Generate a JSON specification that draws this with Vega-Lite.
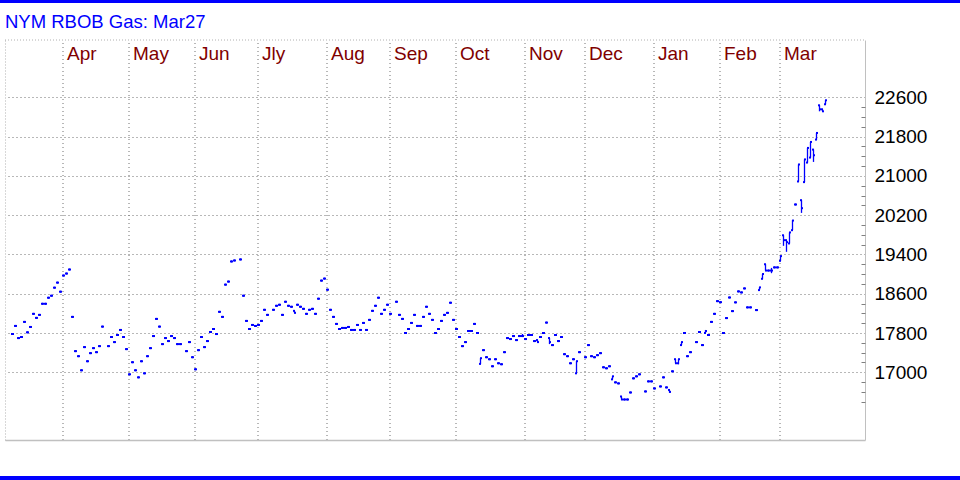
{
  "$schema": "https://vega.github.io/schema/vega-lite/v6.json",
  "autosize": {"type": "none"},
  "padding": {"left": 5, "top": 40, "right": 95, "bottom": 40},
  "width": 860,
  "height": 400,
  "background": "#ffffff",
  "config": {"view": {"stroke": null}},
  "title": {"text": "NYM RBOB Gas: Mar27", "anchor": "start", "frame": "group", "font": "Liberation Sans", "fontSize": 18.5, "fontWeight": "normal", "color": "#0000ff", "baseline": "alphabetic", "offset": 0, "dy": 46.8},
  "data": {"values": [
    {"w":3,"o":17780,"h":17780,"l":17780,"c":17780},
    {"w":4,"o":17944,"h":17944,"l":17944,"c":17944},
    {"w":5,"o":17697,"h":17697,"l":17697,"c":17697},
    {"w":6,"o":17718,"h":17718,"l":17718,"c":17718},
    {"w":7,"o":18026,"h":18026,"l":18026,"c":18026},
    {"w":8,"o":17814,"h":17814,"l":17814,"c":17814},
    {"w":9,"o":17923,"h":17923,"l":17923,"c":17923},
    {"w":10,"o":18190,"h":18190,"l":18190,"c":18190},
    {"w":11,"o":18108,"h":18108,"l":18108,"c":18108},
    {"w":12,"o":18169,"h":18169,"l":18169,"c":18169},
    {"w":13,"o":18395,"h":18395,"l":18395,"c":18395},
    {"w":14,"o":18395,"h":18395,"l":18395,"c":18395},
    {"w":15,"o":18518,"h":18518,"l":18518,"c":18518},
    {"w":16,"o":18559,"h":18559,"l":18559,"c":18559},
    {"w":17,"o":18723,"h":18723,"l":18723,"c":18723},
    {"w":18,"o":18826,"h":18826,"l":18826,"c":18826},
    {"w":19,"o":18641,"h":18641,"l":18641,"c":18641},
    {"w":20,"o":18970,"h":18970,"l":18970,"c":18970},
    {"w":21,"o":19011,"h":19011,"l":19011,"c":19011},
    {"w":22,"o":19093,"h":19093,"l":19093,"c":19093},
    {"w":23,"o":18128,"h":18128,"l":18128,"c":18128},
    {"w":24,"o":17431,"h":17431,"l":17431,"c":17431},
    {"w":25,"o":17328,"h":17328,"l":17328,"c":17328},
    {"w":26,"o":17041,"h":17041,"l":17041,"c":17041},
    {"w":27,"o":17513,"h":17513,"l":17513,"c":17513},
    {"w":28,"o":17225,"h":17225,"l":17225,"c":17225},
    {"w":29,"o":17390,"h":17390,"l":17390,"c":17390},
    {"w":30,"o":17492,"h":17492,"l":17492,"c":17492},
    {"w":31,"o":17410,"h":17410,"l":17410,"c":17410},
    {"w":32,"o":17533,"h":17533,"l":17533,"c":17533},
    {"w":33,"o":17930,"h":17930,"l":17930,"c":17930},
    {"w":35,"o":17533,"h":17533,"l":17533,"c":17533},
    {"w":36,"o":17718,"h":17718,"l":17718,"c":17718},
    {"w":37,"o":17615,"h":17615,"l":17615,"c":17615},
    {"w":38,"o":17759,"h":17759,"l":17759,"c":17759},
    {"w":39,"o":17862,"h":17862,"l":17862,"c":17862},
    {"w":40,"o":17718,"h":17718,"l":17718,"c":17718},
    {"w":41,"o":17472,"h":17472,"l":17472,"c":17472},
    {"w":42,"o":16959,"h":16959,"l":16959,"c":16959},
    {"w":43,"o":17205,"h":17205,"l":17205,"c":17205},
    {"w":44,"o":17041,"h":17041,"l":17041,"c":17041},
    {"w":45,"o":16897,"h":16897,"l":16897,"c":16897},
    {"w":46,"o":17225,"h":17225,"l":17225,"c":17225},
    {"w":47,"o":16979,"h":16979,"l":16979,"c":16979},
    {"w":48,"o":17328,"h":17328,"l":17328,"c":17328},
    {"w":49,"o":17492,"h":17492,"l":17492,"c":17492},
    {"w":50,"o":17738,"h":17738,"l":17738,"c":17738},
    {"w":51,"o":18087,"h":18087,"l":18087,"c":18087},
    {"w":52,"o":17930,"h":17930,"l":17930,"c":17930},
    {"w":53,"o":17574,"h":17574,"l":17574,"c":17574},
    {"w":54,"o":17697,"h":17697,"l":17697,"c":17697},
    {"w":55,"o":17636,"h":17636,"l":17636,"c":17636},
    {"w":56,"o":17738,"h":17738,"l":17738,"c":17738},
    {"w":57,"o":17697,"h":17697,"l":17697,"c":17697},
    {"w":58,"o":17574,"h":17574,"l":17574,"c":17574},
    {"w":59,"o":17574,"h":17574,"l":17574,"c":17574},
    {"w":61,"o":17431,"h":17431,"l":17431,"c":17431},
    {"w":62,"o":17615,"h":17615,"l":17615,"c":17615},
    {"w":63,"o":17307,"h":17307,"l":17307,"c":17307},
    {"w":64,"o":17061,"h":17061,"l":17061,"c":17061},
    {"w":65,"o":17451,"h":17451,"l":17451,"c":17451},
    {"w":66,"o":17718,"h":17718,"l":17718,"c":17718},
    {"w":67,"o":17513,"h":17513,"l":17513,"c":17513},
    {"w":68,"o":17636,"h":17636,"l":17636,"c":17636},
    {"w":69,"o":17820,"h":17820,"l":17820,"c":17820},
    {"w":70,"o":17882,"h":17882,"l":17882,"c":17882},
    {"w":71,"o":17779,"h":17779,"l":17779,"c":17779},
    {"w":72,"o":18231,"h":18231,"l":18231,"c":18231},
    {"w":73,"o":18128,"h":18128,"l":18128,"c":18128},
    {"w":74,"o":18785,"h":18785,"l":18785,"c":18785},
    {"w":75,"o":18847,"h":18847,"l":18847,"c":18847},
    {"w":76,"o":19257,"h":19257,"l":19257,"c":19257},
    {"w":77,"o":19277,"h":19277,"l":19277,"c":19277},
    {"w":79,"o":19298,"h":19298,"l":19298,"c":19298},
    {"w":80,"o":18559,"h":18559,"l":18559,"c":18559},
    {"w":81,"o":18046,"h":18046,"l":18046,"c":18046},
    {"w":82,"o":17882,"h":17882,"l":17882,"c":17882},
    {"w":83,"o":17964,"h":17964,"l":17964,"c":17964},
    {"w":84,"o":17944,"h":17944,"l":17944,"c":17944},
    {"w":85,"o":17964,"h":17964,"l":17964,"c":17964},
    {"w":86,"o":18046,"h":18046,"l":18046,"c":18046},
    {"w":87,"o":18272,"h":18272,"l":18272,"c":18272},
    {"w":88,"o":18169,"h":18169,"l":18169,"c":18169},
    {"w":90,"o":18272,"h":18272,"l":18272,"c":18272},
    {"w":91,"o":18354,"h":18354,"l":18354,"c":18354},
    {"w":92,"o":18375,"h":18375,"l":18375,"c":18375},
    {"w":93,"o":18169,"h":18169,"l":18169,"c":18169},
    {"w":94,"o":18436,"h":18436,"l":18436,"c":18436},
    {"w":95,"o":18354,"h":18354,"l":18354,"c":18354},
    {"w":96,"o":18334,"h":18334,"l":18334,"c":18334},
    {"w":97,"o":18251,"h":18251,"l":18210,"c":18210},
    {"w":98,"o":18375,"h":18375,"l":18375,"c":18375},
    {"w":99,"o":18334,"h":18334,"l":18334,"c":18334},
    {"w":100,"o":18292,"h":18292,"l":18292,"c":18292},
    {"w":101,"o":18190,"h":18190,"l":18190,"c":18190},
    {"w":102,"o":18272,"h":18272,"l":18272,"c":18272},
    {"w":103,"o":18292,"h":18292,"l":18292,"c":18292},
    {"w":104,"o":18190,"h":18190,"l":18190,"c":18190},
    {"w":105,"o":18498,"h":18498,"l":18498,"c":18498},
    {"w":106,"o":18867,"h":18867,"l":18867,"c":18867},
    {"w":107,"o":18908,"h":18908,"l":18908,"c":18908},
    {"w":108,"o":18682,"h":18682,"l":18682,"c":18682},
    {"w":109,"o":18272,"h":18272,"l":18272,"c":18272},
    {"w":110,"o":18128,"h":18128,"l":18128,"c":18128},
    {"w":111,"o":17985,"h":17985,"l":17985,"c":17985},
    {"w":112,"o":17882,"h":17882,"l":17882,"c":17882},
    {"w":113,"o":17903,"h":17903,"l":17903,"c":17903},
    {"w":114,"o":17903,"h":17903,"l":17903,"c":17903},
    {"w":115,"o":17923,"h":17923,"l":17923,"c":17923},
    {"w":116,"o":17862,"h":17862,"l":17862,"c":17862},
    {"w":117,"o":17862,"h":17862,"l":17862,"c":17862},
    {"w":118,"o":17964,"h":17964,"l":17964,"c":17964},
    {"w":119,"o":17862,"h":17862,"l":17862,"c":17862},
    {"w":120,"o":18005,"h":18005,"l":18005,"c":18005},
    {"w":121,"o":17862,"h":17862,"l":17862,"c":17862},
    {"w":122,"o":18067,"h":18067,"l":18067,"c":18067},
    {"w":123,"o":18251,"h":18251,"l":18251,"c":18251},
    {"w":124,"o":18354,"h":18354,"l":18354,"c":18354},
    {"w":125,"o":18518,"h":18518,"l":18518,"c":18518},
    {"w":126,"o":18190,"h":18190,"l":18190,"c":18190},
    {"w":127,"o":18272,"h":18272,"l":18272,"c":18272},
    {"w":128,"o":18375,"h":18375,"l":18375,"c":18375},
    {"w":129,"o":18190,"h":18190,"l":18190,"c":18190},
    {"w":131,"o":18436,"h":18436,"l":18436,"c":18436},
    {"w":132,"o":18169,"h":18169,"l":18169,"c":18169},
    {"w":133,"o":18087,"h":18087,"l":18087,"c":18087},
    {"w":134,"o":17800,"h":17800,"l":17800,"c":17800},
    {"w":135,"o":17882,"h":17882,"l":17882,"c":17882},
    {"w":136,"o":18005,"h":18005,"l":18005,"c":18005},
    {"w":137,"o":18169,"h":18169,"l":18169,"c":18169},
    {"w":138,"o":17944,"h":17944,"l":17944,"c":17944},
    {"w":139,"o":17944,"h":17944,"l":17944,"c":17944},
    {"w":140,"o":18128,"h":18128,"l":18128,"c":18128},
    {"w":141,"o":18334,"h":18334,"l":18334,"c":18334},
    {"w":142,"o":18190,"h":18190,"l":18190,"c":18190},
    {"w":143,"o":18067,"h":18067,"l":18067,"c":18067},
    {"w":144,"o":17800,"h":17800,"l":17800,"c":17800},
    {"w":145,"o":17882,"h":17882,"l":17882,"c":17882},
    {"w":146,"o":18046,"h":18046,"l":18046,"c":18046},
    {"w":147,"o":18169,"h":18169,"l":18169,"c":18169},
    {"w":148,"o":18210,"h":18210,"l":18210,"c":18210},
    {"w":149,"o":18416,"h":18416,"l":18416,"c":18416},
    {"w":150,"o":18067,"h":18067,"l":18067,"c":18067},
    {"w":151,"o":17882,"h":17882,"l":17882,"c":17882},
    {"w":152,"o":17718,"h":17718,"l":17718,"c":17718},
    {"w":153,"o":17533,"h":17533,"l":17533,"c":17533},
    {"w":154,"o":17615,"h":17615,"l":17615,"c":17615},
    {"w":155,"o":17841,"h":17841,"l":17841,"c":17841},
    {"w":156,"o":17841,"h":17841,"l":17841,"c":17841},
    {"w":157,"o":17985,"h":17985,"l":17985,"c":17985},
    {"w":158,"o":17800,"h":17800,"l":17800,"c":17800},
    {"w":159,"o":17171,"h":17287,"l":17171,"c":17287},
    {"w":160,"o":17451,"h":17451,"l":17451,"c":17451},
    {"w":161,"o":17307,"h":17307,"l":17307,"c":17307},
    {"w":162,"o":17266,"h":17266,"l":17266,"c":17266},
    {"w":163,"o":17123,"h":17123,"l":17123,"c":17123},
    {"w":164,"o":17266,"h":17266,"l":17266,"c":17266},
    {"w":165,"o":17184,"h":17184,"l":17184,"c":17184},
    {"w":166,"o":17164,"h":17164,"l":17164,"c":17164},
    {"w":167,"o":17410,"h":17410,"l":17410,"c":17410},
    {"w":168,"o":17697,"h":17697,"l":17697,"c":17697},
    {"w":169,"o":17677,"h":17677,"l":17677,"c":17677},
    {"w":170,"o":17738,"h":17738,"l":17738,"c":17738},
    {"w":171,"o":17656,"h":17656,"l":17656,"c":17656},
    {"w":172,"o":17738,"h":17738,"l":17738,"c":17738},
    {"w":173,"o":17738,"h":17780,"l":17738,"c":17738},
    {"w":174,"o":17677,"h":17677,"l":17677,"c":17677},
    {"w":175,"o":17759,"h":17759,"l":17759,"c":17759},
    {"w":176,"o":17759,"h":17759,"l":17759,"c":17759},
    {"w":177,"o":17636,"h":17636,"l":17636,"c":17636},
    {"w":178,"o":17656,"h":17656,"l":17615,"c":17615},
    {"w":179,"o":17718,"h":17718,"l":17718,"c":17718},
    {"w":180,"o":17800,"h":17800,"l":17800,"c":17800},
    {"w":181,"o":18012,"h":18012,"l":18012,"c":18012},
    {"w":182,"o":17697,"h":17697,"l":17574,"c":17615},
    {"w":183,"o":17554,"h":17554,"l":17554,"c":17554},
    {"w":184,"o":17759,"h":17759,"l":17759,"c":17759},
    {"w":185,"o":17636,"h":17636,"l":17636,"c":17636},
    {"w":186,"o":17718,"h":17718,"l":17718,"c":17718},
    {"w":187,"o":17369,"h":17369,"l":17369,"c":17369},
    {"w":188,"o":17328,"h":17328,"l":17328,"c":17328},
    {"w":189,"o":17184,"h":17184,"l":17184,"c":17184},
    {"w":190,"o":17266,"h":17266,"l":17266,"c":17266},
    {"w":191,"o":16979,"h":17226,"l":16979,"c":17226},
    {"w":192,"o":17410,"h":17410,"l":17410,"c":17410},
    {"w":194,"o":17307,"h":17307,"l":17307,"c":17307},
    {"w":195,"o":17554,"h":17554,"l":17554,"c":17554},
    {"w":196,"o":17328,"h":17328,"l":17328,"c":17328},
    {"w":197,"o":17307,"h":17307,"l":17307,"c":17307},
    {"w":198,"o":17349,"h":17349,"l":17349,"c":17349},
    {"w":199,"o":17390,"h":17390,"l":17390,"c":17390},
    {"w":200,"o":17102,"h":17102,"l":17102,"c":17102},
    {"w":201,"o":17082,"h":17082,"l":17082,"c":17082},
    {"w":202,"o":17123,"h":17123,"l":17123,"c":17123},
    {"w":203,"o":16856,"h":16918,"l":16856,"c":16918},
    {"w":204,"o":16795,"h":16795,"l":16795,"c":16795},
    {"w":205,"o":16774,"h":16774,"l":16774,"c":16774},
    {"w":206,"o":16507,"h":16507,"l":16446,"c":16446},
    {"w":207,"o":16446,"h":16446,"l":16446,"c":16446},
    {"w":208,"o":16446,"h":16446,"l":16446,"c":16446},
    {"w":209,"o":16589,"h":16589,"l":16589,"c":16589},
    {"w":210,"o":16877,"h":16877,"l":16877,"c":16877},
    {"w":211,"o":16918,"h":16918,"l":16918,"c":16918},
    {"w":212,"o":16959,"h":16959,"l":16959,"c":16959},
    {"w":214,"o":16610,"h":16610,"l":16610,"c":16610},
    {"w":215,"o":16815,"h":16815,"l":16815,"c":16815},
    {"w":216,"o":16815,"h":16815,"l":16815,"c":16815},
    {"w":217,"o":16671,"h":16671,"l":16671,"c":16671},
    {"w":219,"o":16712,"h":16712,"l":16712,"c":16712},
    {"w":220,"o":16897,"h":16897,"l":16897,"c":16897},
    {"w":221,"o":16692,"h":16692,"l":16692,"c":16692},
    {"w":222,"o":16640,"h":16640,"l":16589,"c":16600},
    {"w":223,"o":17020,"h":17020,"l":17020,"c":17020},
    {"w":224,"o":17266,"h":17266,"l":17184,"c":17184},
    {"w":225,"o":17184,"h":17266,"l":17164,"c":17266},
    {"w":226,"o":17554,"h":17615,"l":17554,"c":17615},
    {"w":227,"o":17800,"h":17800,"l":17800,"c":17800},
    {"w":228,"o":17328,"h":17328,"l":17328,"c":17328},
    {"w":229,"o":17410,"h":17410,"l":17410,"c":17410},
    {"w":231,"o":17615,"h":17615,"l":17615,"c":17615},
    {"w":232,"o":17820,"h":17820,"l":17820,"c":17820},
    {"w":233,"o":17554,"h":17554,"l":17554,"c":17554},
    {"w":234,"o":17800,"h":17862,"l":17800,"c":17841},
    {"w":235,"o":17759,"h":17759,"l":17759,"c":17759},
    {"w":236,"o":18026,"h":18026,"l":18026,"c":18026},
    {"w":237,"o":18190,"h":18190,"l":18190,"c":18190},
    {"w":238,"o":18449,"h":18449,"l":18449,"c":18449},
    {"w":239,"o":18428,"h":18428,"l":18428,"c":18428},
    {"w":240,"o":17800,"h":17800,"l":17800,"c":17800},
    {"w":241,"o":18104,"h":18104,"l":18104,"c":18104},
    {"w":242,"o":18523,"h":18523,"l":18523,"c":18523},
    {"w":243,"o":18246,"h":18246,"l":18246,"c":18246},
    {"w":244,"o":18424,"h":18424,"l":18424,"c":18424},
    {"w":245,"o":18647,"h":18647,"l":18647,"c":18647},
    {"w":246,"o":18627,"h":18627,"l":18627,"c":18627},
    {"w":247,"o":18708,"h":18708,"l":18708,"c":18708},
    {"w":248,"o":18322,"h":18322,"l":18322,"c":18322},
    {"w":249,"o":18322,"h":18322,"l":18322,"c":18322},
    {"w":251,"o":18267,"h":18267,"l":18267,"c":18267},
    {"w":252,"o":18674,"h":18729,"l":18674,"c":18729},
    {"w":253,"o":18904,"h":19000,"l":18904,"c":19000},
    {"w":254,"o":19200,"h":19200,"l":19072,"c":19072},
    {"w":255,"o":19072,"h":19072,"l":19072,"c":19072},
    {"w":256,"o":19072,"h":19126,"l":19018,"c":19072},
    {"w":257,"o":19136,"h":19136,"l":19136,"c":19136},
    {"w":258,"o":19136,"h":19136,"l":19136,"c":19136},
    {"w":259,"o":19270,"h":19366,"l":19270,"c":19366},
    {"w":260,"o":19790,"h":19790,"l":19575,"c":19691},
    {"w":261,"o":19691,"h":19691,"l":19453,"c":19650},
    {"w":262,"o":19624,"h":19848,"l":19624,"c":19848},
    {"w":263,"o":19894,"h":20098,"l":19894,"c":20090},
    {"w":264,"o":20417,"h":20417,"l":20417,"c":20417},
    {"w":265,"o":20886,"h":21232,"l":20886,"c":21232},
    {"w":266,"o":20505,"h":20505,"l":20246,"c":20342},
    {"w":267,"o":20873,"h":21335,"l":20873,"c":21335},
    {"w":268,"o":21271,"h":21569,"l":21271,"c":21569},
    {"w":269,"o":21373,"h":21691,"l":21373,"c":21691},
    {"w":270,"o":21535,"h":21535,"l":21284,"c":21420},
    {"w":271,"o":21739,"h":21874,"l":21739,"c":21874},
    {"w":272,"o":22437,"h":22437,"l":22315,"c":22356},
    {"w":273,"o":22356,"h":22356,"l":22315,"c":22315},
    {"w":274,"o":22458,"h":22539,"l":22458,"c":22539}
  ]},
  "resolve": {"scale": {"x": "shared", "y": "shared"}, "axis": {"x": "independent", "y": "independent"}},
  "layer": [
    {
      "mark": {"type": "rule", "color": "#0000ff", "strokeWidth": 1.3},
      "encoding": {
        "x": {"field": "w", "type": "quantitative",
              "scale": {"domain": [0.5, 287.1667], "nice": false, "zero": false},
              "axis": {"orient": "top", "title": null, "translate": 0,
                       "values": [20, 42, 64, 85, 108, 129, 151, 174, 194, 217, 239, 259],
                       "labelExpr": "['Apr','May','Jun','Jly','Aug','Sep','Oct','Nov','Dec','Jan','Feb','Mar'][indexof([20,42,64,85,108,129,151,174,194,217,239,259], datum.value)]",
                       "grid": true, "gridColor": "#707070", "gridDash": [1, 3], "gridWidth": 1, "gridOpacity": 1,
                       "ticks": false, "tickSize": 0,
                       "domain": true, "domainColor": "#b0b0b0", "domainDash": [1, 2], "domainWidth": 1,
                       "labelAlign": "left", "labelBaseline": "alphabetic", "labelPadding": -19.5, "labelOffset": 3.5,
                       "labelFont": "Liberation Sans", "labelFontSize": 19, "labelColor": "#800000",
                       "labelFlush": false, "labelOverlap": false}},
        "y": {"field": "l", "type": "quantitative",
              "scale": {"domain": [15621, 23767], "nice": false, "zero": false},
              "axis": {"orient": "right", "title": null,
                       "values": [17000, 17800, 18600, 19400, 20200, 21000, 21800, 22600],
                       "format": "d",
                       "grid": true, "gridColor": "#707070", "gridDash": [1, 3], "gridWidth": 1, "gridOpacity": 1,
                       "ticks": false, "tickSize": 0,
                       "domain": true, "domainColor": "#c0c0c0", "domainWidth": 1,
                       "labelPadding": 9, "labelAlign": "left", "labelBaseline": "middle",
                       "labelFont": "Liberation Sans", "labelFontSize": 19, "labelColor": "#000000",
                       "labelFlush": false, "labelOverlap": false}},
        "y2": {"field": "h"}
      }
    },
    {
      "mark": {"type": "rule", "color": "#0000ff", "strokeWidth": 2, "xOffset": -1.5, "x2Offset": 0.5},
      "encoding": {
        "x": {"field": "w", "type": "quantitative",
              "axis": {"orient": "bottom", "title": null, "labels": false, "ticks": false, "grid": false,
                       "domain": true, "domainColor": "#c0c0c0", "domainWidth": 1.5}},
        "x2": {"field": "w"},
        "y": {"field": "o", "type": "quantitative",
              "axis": {"orient": "right", "title": null, "labels": false, "grid": false, "domain": false,
                       "ticks": true, "tickSize": 4, "tickColor": "#808080", "tickWidth": 1, "offset": -4,
                       "values": [16400, 16600, 16800, 17200, 17400, 17600, 18000, 18200, 18400, 18800, 19000, 19200, 19600, 19800, 20000, 20400, 20600, 20800, 21200, 21400, 21600, 22000, 22200, 22400]}}
      }
    },
    {
      "mark": {"type": "rule", "color": "#0000ff", "strokeWidth": 2, "xOffset": -0.5, "x2Offset": 1.5},
      "encoding": {
        "x": {"field": "w", "type": "quantitative", "axis": null},
        "x2": {"field": "w"},
        "y": {"field": "c", "type": "quantitative",
              "axis": {"orient": "left", "title": null, "labels": false, "ticks": false, "grid": false,
                       "domain": true, "domainColor": "#b0b0b0", "domainDash": [1, 2], "domainWidth": 1}}
      }
    },
    {
      "mark": {"type": "rule", "color": "#0000ff", "strokeWidth": 3},
      "encoding": {
        "x": {"datum": -2, "type": "quantitative", "axis": null},
        "x2": {"datum": 320},
        "y": {"datum": 24551, "type": "quantitative", "axis": null}
      }
    },
    {
      "mark": {"type": "rule", "color": "#0000ff", "strokeWidth": 3},
      "encoding": {
        "x": {"datum": -2, "type": "quantitative", "axis": null},
        "x2": {"datum": 320},
        "y": {"datum": 14847, "type": "quantitative", "axis": null}
      }
    }
  ]
}
